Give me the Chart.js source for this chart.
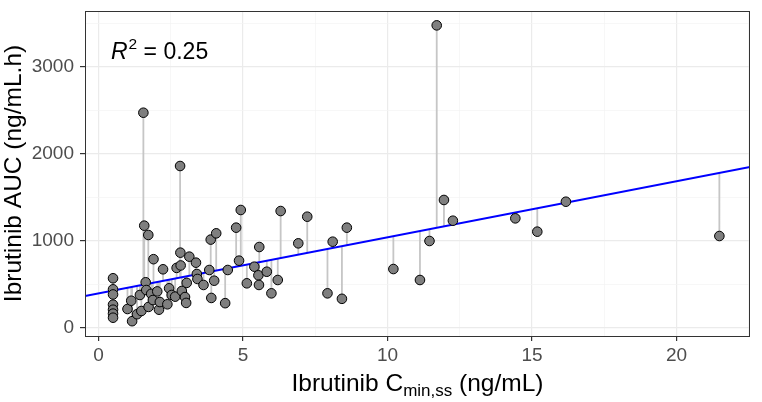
<!DOCTYPE html>
<html>
<head>
<meta charset="utf-8">
<script src="https://cdn.jsdelivr.net/npm/chart.js@4.4.1/dist/chart.umd.min.js"></script>
<style>
  html, body { margin: 0; padding: 0; background: #fff; }
  #wrap { width: 762px; height: 402px; }
</style>
</head>
<body>
<div id="wrap"><canvas id="chart"></canvas></div>
<script>
// Ibrutinib Cmin,ss (ng/mL) and matching AUC (ng/mL.h)
const cminValues = [
  0.5, 0.5, 0.5, 0.5, 0.5, 0.5, 0.5,
  1.0, 1.13, 1.16, 1.33, 1.43, 1.48, 1.55, 1.58, 1.63, 1.65, 1.72, 1.73, 1.82, 1.88, 1.90,
  2.03, 2.09, 2.12, 2.23, 2.38, 2.44, 2.53, 2.65, 2.70, 2.82, 2.83, 2.84, 2.88, 2.99,
  3.03, 3.05, 3.14, 3.37, 3.40, 3.42, 3.63, 3.83, 3.88, 3.90, 4.0, 4.07, 4.38, 4.47,
  4.76, 4.86, 4.92, 5.13, 5.39, 5.53, 5.55, 5.56, 5.82, 5.98, 6.20, 6.30, 6.91, 7.22,
  7.92, 8.10, 8.42, 8.59, 10.20, 11.12, 11.45, 11.70, 11.95, 12.26, 14.42, 15.18, 16.17, 21.48
];
const aucValues = [
  571, 444, 385, 268, 210, 165, 118,
  218, 313, 78, 158, 379, 195, 2472, 1175, 525, 436, 1068, 242, 392, 321, 790,
  420, 210, 298, 674, 272, 456, 379, 360, 690, 1860, 865, 718, 425, 355,
  288, 518, 819, 750, 620, 563, 494, 666, 1015, 345, 543, 1087, 285, 666,
  1152, 773, 1355, 513, 704, 605, 494, 930, 646, 398, 551, 1343, 972, 1278,
  398, 991, 335, 1152, 677, 551, 999, 3475, 1470, 1232, 1259, 1106, 1450, 1056
];
// linear fit shown in blue
const fitIntercept = 397;
const fitSlope = 64.4;
const rSquaredLabel = "0.25";
const xTickLabels = [0, 5, 10, 15, 20];
const yTickLabels = [0, 1000, 2000, 3000];
const xGrid = [0, 2.5, 5, 7.5, 10, 12.5, 15, 17.5, 20, 22.5];
const yGrid = [0, 500, 1000, 1500, 2000, 2500, 3000, 3500];
const xRange = [-0.47, 22.54];
const yRange = [-92, 3640];

const FONT = "'Liberation Sans', Arial, Helvetica, sans-serif";
const fit = x => fitIntercept + fitSlope * x;

const points = cminValues.map((x, i) => ({ x: x, y: aucValues[i] }));
const residuals = [];
cminValues.forEach((x, i) => {
  residuals.push({ x: x, y: aucValues[i] });
  residuals.push({ x: x, y: fit(x) });
  residuals.push({ x: x, y: null });
});
const fitLine = xRange.map(x => ({ x: x, y: fit(x) }));

const inList = (list, v) => list.some(t => Math.abs(t - v) < 1e-9);

const panelPlugin = {
  id: "panel",
  afterDraw(chart) {
    const ctx = chart.ctx;
    const a = chart.chartArea;
    ctx.save();
    ctx.strokeStyle = "#333333";
    ctx.lineWidth = 1;
    ctx.strokeRect(a.left + 0.5, a.top + 0.5, a.right - a.left - 1, a.bottom - a.top);

    // R^2 label
    ctx.fillStyle = "#000";
    ctx.textBaseline = "alphabetic";
    let x = a.left + 26;
    const y = a.top + 48;
    ctx.font = "italic 23px " + FONT;
    ctx.fillText("R", x, y);
    x += ctx.measureText("R").width + 1;
    ctx.font = "15.5px " + FONT;
    ctx.fillText("2", x, y - 10);
    x += ctx.measureText("2").width;
    ctx.font = "23px " + FONT;
    ctx.fillText(" = " + rSquaredLabel, x, y);

    // x axis title with subscript
    const main1 = "Ibrutinib C", sub = "min,ss", main2 = " (ng/mL)";
    ctx.font = "24.5px " + FONT;
    const w1 = ctx.measureText(main1).width;
    const w3 = ctx.measureText(main2).width;
    ctx.font = "17px " + FONT;
    const w2 = ctx.measureText(sub).width;
    let tx = (a.left + a.right) / 2 - (w1 + w2 + w3) / 2;
    const ty = 391;
    ctx.font = "24.5px " + FONT;
    ctx.fillText(main1, tx, ty);
    tx += w1;
    ctx.font = "17px " + FONT;
    ctx.fillText(sub, tx, ty + 5);
    tx += w2;
    ctx.font = "24.5px " + FONT;
    ctx.fillText(main2, tx, ty);
    ctx.restore();
  }
};

const chart = new Chart(document.getElementById("chart"), {
  type: "scatter",
  data: {
    datasets: [
      {
        data: residuals,
        showLine: true,
        spanGaps: false,
        borderColor: "#c6c6c6",
        borderWidth: 1.8,
        pointRadius: 0,
        order: 3,
      },
      {
        data: fitLine,
        showLine: true,
        borderColor: "#0000ff",
        borderWidth: 2,
        pointRadius: 0,
        order: 2,
      },
      {
        data: points,
        backgroundColor: "#7f7f7f",
        borderColor: "#000000",
        borderWidth: 1,
        pointRadius: 4.8,
        order: 1,
      },
    ],
  },
  options: {
    responsive: true,
    maintainAspectRatio: false,
    animation: false,
    layout: { padding: { left: 0, right: 12, top: 11, bottom: 0 } },
    plugins: {
      legend: { display: false },
      tooltip: { enabled: false },
    },
    scales: {
      x: {
        type: "linear",
        min: xRange[0],
        max: xRange[1],
        afterBuildTicks: s => { s.ticks = xGrid.map(v => ({ value: v })); },
        afterFit: s => {
          s.height = 66;
          s.paddingLeft = 0;
          s.paddingRight = 0;
        },
        border: { display: false },
        grid: {
          color: c => inList(xTickLabels, c.tick.value) ? "#ebebeb" : "#f3f3f3",
          lineWidth: c => inList(xTickLabels, c.tick.value) ? 1.2 : 0.7,
          tickColor: c => inList(xTickLabels, c.tick.value) ? "#333333" : "rgba(0,0,0,0)",
          tickLength: 5,
        },
        ticks: {
          autoSkip: false,
          maxRotation: 0,
          padding: 3,
          color: "#4d4d4d",
          font: { family: FONT, size: 19 },
          callback: v => inList(xTickLabels, v) ? String(Math.round(v)) : "",
        },
      },
      y: {
        type: "linear",
        min: yRange[0],
        max: yRange[1],
        afterBuildTicks: s => { s.ticks = yGrid.map(v => ({ value: v })); },
        afterFit: s => {
          s.width = 85;
          s.paddingTop = 0;
          s.paddingBottom = 0;
        },
        border: { display: false },
        grid: {
          color: c => inList(yTickLabels, c.tick.value) ? "#ebebeb" : "#f3f3f3",
          lineWidth: c => inList(yTickLabels, c.tick.value) ? 1.2 : 0.7,
          tickColor: c => inList(yTickLabels, c.tick.value) ? "#333333" : "rgba(0,0,0,0)",
          tickLength: 5,
        },
        title: {
          display: true,
          text: "Ibrutinib AUC (ng/mL.h)",
          color: "#000",
          font: { family: FONT, size: 24.5 },
          padding: { top: 0, bottom: 0 },
        },
        ticks: {
          autoSkip: false,
          padding: 6,
          color: "#4d4d4d",
          font: { family: FONT, size: 19 },
          callback: v => inList(yTickLabels, v) ? String(Math.round(v)) : "",
        },
      },
    },
  },
  plugins: [panelPlugin],
});
</script>
</body>
</html>
